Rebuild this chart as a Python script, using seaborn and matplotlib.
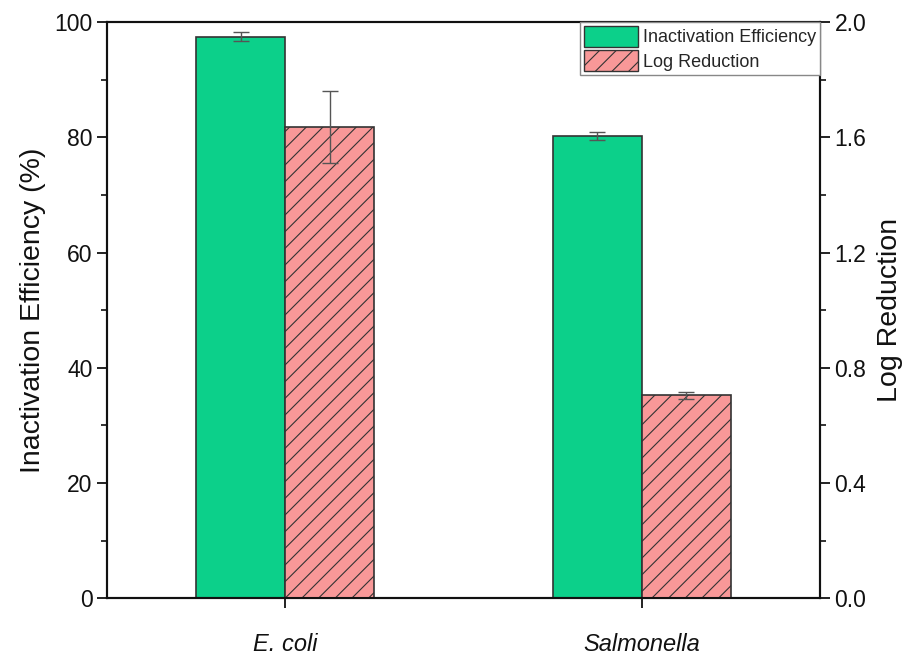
import numpy as np
import pandas as pd
import matplotlib
matplotlib.use("Agg")
import matplotlib.pyplot as plt
from matplotlib.patches import Patch
from matplotlib.ticker import MultipleLocator, FormatStrFormatter
import seaborn as sns

sns.set_style("ticks")
plt.rcParams["font.family"] = ["Liberation Sans", "DejaVu Sans"]
plt.rcParams["hatch.linewidth"] = 0.8
plt.rcParams["hatch.color"] = "#3a3a3a"

# Measured data
bacteria = ["E. coli", "Salmonella"]
inactivation_eff = [97.5, 80.3]      # %
inactivation_err = [0.8, 0.7]
log_reduction = [1.637, 0.705]
log_reduction_err = [0.125, 0.012]

series = ["Inactivation Efficiency", "Log Reduction"]
green = "#0CD08A"
pink = "#F89898"

df_ie = pd.DataFrame({"Bacteria": bacteria, "Series": series[0], "Value": inactivation_eff})
df_lr = pd.DataFrame({"Bacteria": bacteria, "Series": series[1], "Value": log_reduction})

fig, ax = plt.subplots(figsize=(9.15, 6.56), dpi=100)
fig.subplots_adjust(left=0.117, right=0.896, top=0.966, bottom=0.088)
ax2 = ax.twinx()

common = dict(x="Bacteria", y="Value", hue="Series", hue_order=series, order=bacteria,
              palette=[green, pink], width=0.5, dodge=True, saturation=1,
              errorbar=None, edgecolor="#333333", linewidth=1.2, legend=False)
sns.barplot(data=df_ie, ax=ax, **common)
sns.barplot(data=df_lr, ax=ax2, **common)

for p in ax2.patches:
    p.set_hatch("//")

# Error bars centred on each drawn bar
def add_errors(axis, values, errors):
    bars = sorted([p for p in axis.patches if p.get_height() > 0], key=lambda p: p.get_x())
    xs = [b.get_x() + b.get_width() / 2 for b in bars]
    axis.errorbar(xs, values, yerr=errors, fmt="none", ecolor="#555555",
                  elinewidth=1.0, capsize=5.5, capthick=1.0, zorder=5)

add_errors(ax, inactivation_eff, inactivation_err)
add_errors(ax2, log_reduction, log_reduction_err)

ax.set_xlim(-0.5, 1.5)
ax.set_ylim(0, 100)
ax2.set_ylim(0, 2.0)
ax.yaxis.set_major_locator(MultipleLocator(20))
ax.yaxis.set_minor_locator(MultipleLocator(10))
ax2.yaxis.set_major_locator(MultipleLocator(0.4))
ax2.yaxis.set_minor_locator(MultipleLocator(0.2))
ax2.yaxis.set_major_formatter(FormatStrFormatter("%.1f"))

ax.set_xlabel("")
ax.set_ylabel("Inactivation Efficiency (%)", fontsize=20.5, color="#111111", labelpad=6)
ax2.set_ylabel("Log Reduction", fontsize=20.5, color="#111111", labelpad=8)

for a in (ax, ax2):
    for s in a.spines.values():
        s.set_linewidth(1.5)
        s.set_color("#111111")
    a.tick_params(axis="both", which="major", direction="out", length=7, width=1.3,
                  labelsize=16.5, colors="#111111")
    a.tick_params(axis="y", which="minor", direction="out", length=4, width=1.2, colors="#111111")

ax.tick_params(axis="x", pad=18)
ax.set_xticks([0, 1])
ax.set_xticklabels(bacteria, fontstyle="italic", fontsize=17)

handles = [Patch(facecolor=green, edgecolor="#333333", linewidth=1.0, label=series[0]),
           Patch(facecolor=pink, edgecolor="#333333", linewidth=1.0, hatch="//", label=series[1])]
leg = ax2.legend(handles=handles, loc="upper right", fontsize=13, frameon=True, fancybox=False,
                 framealpha=1, edgecolor="#888888", borderaxespad=0.0, handlelength=3.0,
                 handleheight=1.4, handletextpad=0.3, borderpad=0.2, labelspacing=0.2)
leg.get_frame().set_linewidth(1.0)

fig.savefig("out.png", dpi=100)
